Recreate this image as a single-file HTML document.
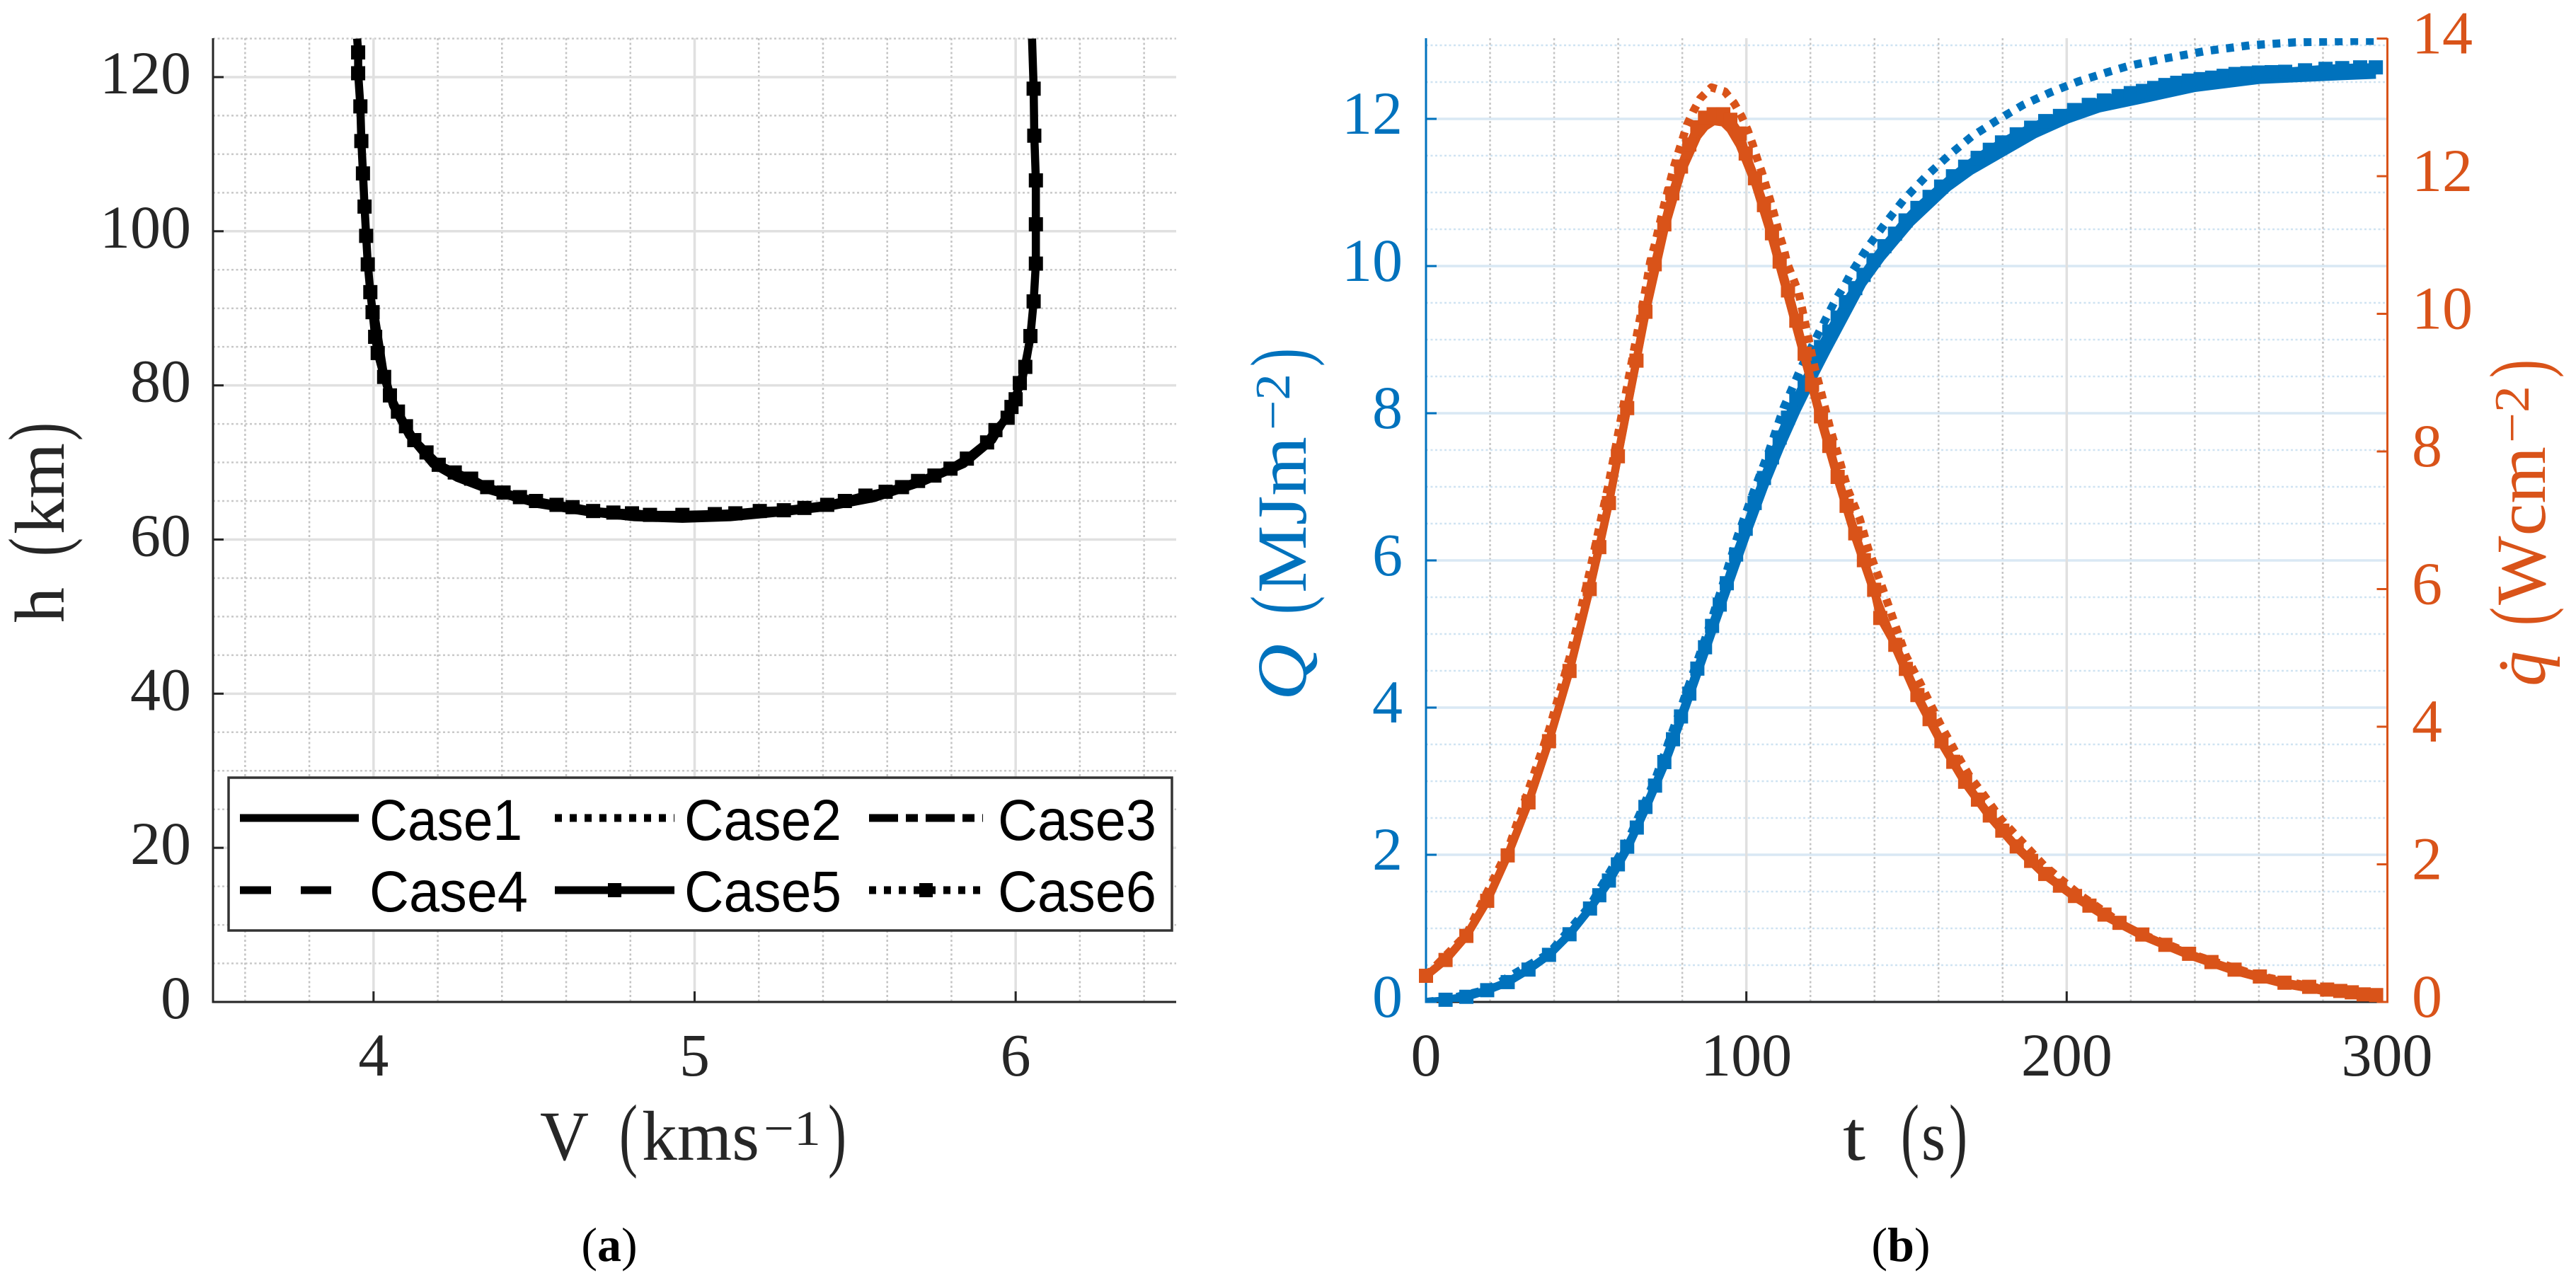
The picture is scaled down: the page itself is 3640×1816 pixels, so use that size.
<!DOCTYPE html>
<html lang="en">
<head>
<meta charset="utf-8">
<title>Trajectory and heating charts</title>
<style>
html,body{margin:0;padding:0;background:#fff;}
svg{display:block;}
text{font-family:"Liberation Serif",serif;}
.sans{font-family:"Liberation Sans",sans-serif;}
</style>
</head>
<body>
<svg id="figure" xmlns="http://www.w3.org/2000/svg" width="3640" height="1816" viewBox="0 0 3640 1816">
<rect x="0" y="0" width="3640" height="1816" fill="#ffffff"/>
<defs>
<clipPath id="clipA"><rect x="301" y="54" width="1361" height="1362"/></clipPath>
<clipPath id="clipB"><rect x="2015" y="54" width="1358" height="1362"/></clipPath>
</defs>

<g id="panelA"></g>

<g>
<rect x="323" y="1099" width="1333" height="216" fill="#ffffff" stroke="#333333" stroke-width="3.5"/>
<line x1="339" y1="1156" x2="507" y2="1156" stroke="#000" stroke-width="11"/>
<text class="sans" x="522" y="1187" font-size="82" textLength="216" lengthAdjust="spacingAndGlyphs">Case1</text>
<line x1="784" y1="1156" x2="953" y2="1156" stroke="#000" stroke-width="11" stroke-dasharray="10 11"/>
<text class="sans" x="967" y="1187" font-size="82" textLength="222" lengthAdjust="spacingAndGlyphs">Case2</text>
<line x1="1228" y1="1156" x2="1389" y2="1156" stroke="#000" stroke-width="11" stroke-dasharray="41 11 17 11"/>
<text class="sans" x="1410" y="1187" font-size="82" textLength="224" lengthAdjust="spacingAndGlyphs">Case3</text>
<line x1="339" y1="1258" x2="468" y2="1258" stroke="#000" stroke-width="11" stroke-dasharray="44 42"/>
<text class="sans" x="522" y="1288" font-size="82" textLength="224" lengthAdjust="spacingAndGlyphs">Case4</text>
<line x1="784" y1="1258" x2="953" y2="1258" stroke="#000" stroke-width="11"/>
<rect x="859" y="1248" width="19" height="20" fill="#000"/>
<text class="sans" x="967" y="1288" font-size="82" textLength="222" lengthAdjust="spacingAndGlyphs">Case5</text>
<line x1="1228" y1="1258" x2="1389" y2="1258" stroke="#000" stroke-width="11" stroke-dasharray="10 11"/>
<rect x="1299" y="1248" width="19" height="20" fill="#000"/>
<text class="sans" x="1410" y="1288" font-size="82" textLength="224" lengthAdjust="spacingAndGlyphs">Case6</text>
</g>

<g id="panelB"></g>

<g fill="#262626" font-size="100">
<text x="763" y="1639" textLength="69" lengthAdjust="spacingAndGlyphs">V</text>
<text x="875" y="1641" font-size="116" textLength="26" lengthAdjust="spacingAndGlyphs">(</text>
<text x="907" y="1639" textLength="166" lengthAdjust="spacingAndGlyphs">kms</text>
<text x="1079" y="1618" font-size="70" textLength="81" lengthAdjust="spacingAndGlyphs">−1</text>
<text x="1170" y="1641" font-size="116" textLength="26" lengthAdjust="spacingAndGlyphs">)</text>
</g>

<g fill="#262626" font-size="100" transform="translate(90,880) rotate(-90)">
<text x="0" y="0" textLength="50" lengthAdjust="spacingAndGlyphs">h</text>
<text x="94" y="2" font-size="116" textLength="26" lengthAdjust="spacingAndGlyphs">(</text>
<text x="125" y="0" textLength="129" lengthAdjust="spacingAndGlyphs">km</text>
<text x="257" y="2" font-size="116" textLength="26" lengthAdjust="spacingAndGlyphs">)</text>
</g>

<g fill="#262626" font-size="100">
<text x="2604" y="1639" textLength="32" lengthAdjust="spacingAndGlyphs">t</text>
<text x="2686" y="1641" font-size="116" textLength="26" lengthAdjust="spacingAndGlyphs">(</text>
<text x="2715" y="1639" textLength="34" lengthAdjust="spacingAndGlyphs">s</text>
<text x="2754" y="1641" font-size="116" textLength="26" lengthAdjust="spacingAndGlyphs">)</text>
</g>

<g fill="#0072BD" font-size="100" transform="translate(1845,990) rotate(-90)">
<text x="0" y="0" font-style="italic" textLength="80" lengthAdjust="spacingAndGlyphs">Q</text>
<text x="122" y="2" font-size="116" textLength="26" lengthAdjust="spacingAndGlyphs">(</text>
<text x="152" y="0" textLength="221" lengthAdjust="spacingAndGlyphs">MJm</text>
<text x="382" y="-23" font-size="70" textLength="80" lengthAdjust="spacingAndGlyphs">−2</text>
<text x="472" y="2" font-size="116" textLength="26" lengthAdjust="spacingAndGlyphs">)</text>
</g>

<g fill="#D95319" font-size="100" transform="translate(3596,970) rotate(-90)">
<text x="0" y="0" font-style="italic">q&#775;</text>
<text x="86" y="2" font-size="116" textLength="26" lengthAdjust="spacingAndGlyphs">(</text>
<text x="115" y="0" textLength="224" lengthAdjust="spacingAndGlyphs">Wcm</text>
<text x="344" y="-23" font-size="70" textLength="81" lengthAdjust="spacingAndGlyphs">−2</text>
<text x="436" y="2" font-size="116" textLength="26" lengthAdjust="spacingAndGlyphs">)</text>
</g>

<text x="861" y="1782" font-size="68" text-anchor="middle" fill="#000">(<tspan font-weight="bold">a</tspan>)</text>
<text x="2686" y="1782" font-size="68" text-anchor="middle" fill="#000">(<tspan font-weight="bold">b</tspan>)</text>
</svg>

<script>
// Panel (a): altitude vs velocity
const xTicksA = [4, 5, 6];
const yTicksA = [0, 20, 40, 60, 80, 100, 120];
const xMinorA = [3.6, 3.8, 4.2, 4.4, 4.6, 4.8, 5.2, 5.4, 5.6, 5.8, 6.2, 6.4];
const yMinorA = [5, 10, 15, 25, 30, 35, 45, 50, 55, 65, 70, 75, 85, 90, 95, 105, 110, 115, 125];
const velocity = [3.949,3.952,3.952,3.959,3.962,3.967,3.972,3.977,3.982,3.990,3.997,4.005,4.013,4.033,4.051,4.076,4.101,4.127,4.165,4.203,4.253,4.304,4.354,4.405,4.456,4.506,4.570,4.620,4.684,4.747,4.805,4.861,4.962,5.063,5.127,5.203,5.278,5.342,5.413,5.468,5.532,5.595,5.646,5.696,5.747,5.797,5.848,5.911,5.937,5.975,5.987,6.000,6.013,6.030,6.046,6.056,6.063,6.063,6.063,6.058,6.056,6.051];
const altitude = [125,123.2,120.5,116.2,111.7,107.5,103.2,99.4,95.7,92.1,89.5,86.3,84.2,81.1,78.7,76.6,74.7,72.9,71.3,69.7,68.7,67.9,66.8,66.1,65.5,65,64.5,64.2,63.7,63.5,63.4,63.2,63.2,63.3,63.4,63.7,63.8,64.1,64.5,65,65.7,66.2,66.8,67.6,68.3,69.2,70.5,72.6,74.2,75.8,77.2,78.2,80.3,82.4,86.4,90.9,95.8,100.9,106.6,112.4,118.5,125];
const velocityLower = [4.000,4.030,4.061,4.111,4.185,4.261,4.362,4.514,4.663,4.813,4.962,5.111,5.261,5.410,5.560,5.711,5.838,5.927,5.977,6.020,6.045];
const altitudeLower = [90,82,77.4,73.5,69.8,68.0,66.4,64.6,63.6,62.9,62.7,62.9,63.5,64.2,65.4,67.5,69.8,72.9,76.4,80.6,86];

// Panel (b): heat load and heat rate vs time
const xTicksB = [0, 100, 200, 300];
const xMinorB = [20, 40, 60, 80, 120, 140, 160, 180, 220, 240, 260, 280];
const yTicksQ = [0, 2, 4, 6, 8, 10, 12];
const yMinorQ = [0.5,1,1.5,2.5,3,3.5,4.5,5,5.5,6.5,7,7.5,8.5,9,9.5,10.5,11,11.5,12.5,13];
const yTicksRate = [0, 2, 4, 6, 8, 10, 12, 14];

const timeLoadLine = [0,6.1,12.6,19.1,25.5,32,38.4,44.8,51.2,57.1,62.8,68.5,74.4,79.6,84.7,89.3,93.9,99.8,105.5,110.4,115.6,120,125.2,130.7,136.2,142,151.3,163,170,180,190,200.2,210,222,240,260.2,280,296.5];
const loadLine = [0,0.02,0.07,0.16,0.27,0.44,0.64,0.92,1.27,1.63,2.08,2.62,3.22,3.83,4.46,5.03,5.6,6.33,7.0,7.52,8.03,8.42,8.86,9.31,9.76,10.11,10.59,11.07,11.29,11.54,11.79,11.99,12.14,12.25,12.42,12.53,12.57,12.60];

const timeLoadMid = [125,135,145,155,170,180,190,200,210,222,240,260,280,296.5];
const loadMid = [8.92,9.71,10.30,10.80,11.37,11.61,11.85,12.04,12.17,12.31,12.47,12.58,12.63,12.65];

const timeLoadMarked = [6.1,12.6,19.1,25.5,32,38.4,44.8,51.2,54.1,57.1,59.9,62.8,65.8,68.5,71.5,74.4,77.1,79.6,82.2,84.7,87.1,89.3,91.7,93.9,96.8,99.8,102.6,105.5,108,110.4,113,115.6,118.2,121.1,123.3,125.9,128.5,131.1,134,136.6,139.7,143.1,146.4,149.7,153.4,157.2,160.8,164.5,168.3,172.2,176,179.8,184.4,188.9,193.3,197.9,202.3,206.9,211.6,216.2,220,223.8,227.3,230.8,234.5,238.1,241.8,245.4,249,252.7,256.4,260,264,268.2,274.4,280.8,286,291.6,296.5];
const loadMarked = [0.03,0.07,0.16,0.27,0.44,0.64,0.92,1.27,1.45,1.65,1.87,2.11,2.37,2.65,2.94,3.26,3.57,3.88,4.19,4.53,4.82,5.11,5.40,5.69,6.08,6.43,6.78,7.12,7.40,7.67,7.94,8.20,8.42,8.71,8.90,9.11,9.30,9.51,9.70,9.88,10.08,10.27,10.44,10.62,10.79,10.94,11.08,11.22,11.35,11.47,11.58,11.68,11.79,11.88,11.97,12.04,12.12,12.19,12.25,12.31,12.35,12.38,12.42,12.46,12.49,12.52,12.54,12.56,12.585,12.61,12.62,12.63,12.635,12.64,12.66,12.68,12.69,12.70,12.70];

const timeLoadDotted = [0,6.1,19.1,38.4,51.2,62.8,71.5,79.6,87.6,91.7,97.2,102.4,107.1,111.6,117.1,123.5,127.7,130.7,132.5,137.6,143.2,149.1,156.1,163.1,170.3,178.2,186.4,194.9,203.7,212.4,219.4,229.3,243.2,257.3,271.5,280.8,290.3,296.9];
const loadDotted = [0,0.03,0.17,0.66,1.31,2.17,3.02,4.0,4.99,5.54,6.32,6.95,7.49,8.07,8.62,9.17,9.53,9.74,9.89,10.24,10.57,10.90,11.22,11.5,11.76,11.98,12.19,12.36,12.51,12.63,12.72,12.81,12.92,13.0,13.04,13.05,13.06,13.06];

const timeRateLine = [0,6.1,12.6,19.1,25.5,32,38.4,44.8,51.1,57.1,62.8,68.5,74.4,79.6,84.7,87.1,89.8,92.8,95,97.9,102.7,108,113,118.2,123.3,128.5,134,139.9,146.5,153.4,160.9,168.3,176,184.4,193.3,202.6,211.8,223.6,238.2,252.4,268,281.3,296.6];
const rateLine = [0.38,0.61,0.96,1.47,2.13,2.90,3.79,4.81,6.00,7.25,8.63,10.0,11.22,12.05,12.58,12.72,12.80,12.78,12.68,12.45,11.9,11.1,10.25,9.35,8.45,7.6,6.75,5.95,5.15,4.42,3.76,3.18,2.69,2.24,1.84,1.52,1.25,0.96,0.68,0.45,0.26,0.15,0.06];

const timeRateMarked = [0,6.1,12.6,19.1,25.5,32,38.4,44.8,51.1,54.1,57.1,59.9,62.8,65.7,68.5,71.4,74.4,76.9,79.6,82.2,84.7,87.1,89.8,92.8,95,97.9,99.8,102.7,105.5,108,110.4,113,115.6,118.2,120.5,123.3,125.9,128.5,131.3,134,136.7,139.9,141.8,146.5,149.8,153.4,157.2,160.9,164.6,168.3,172.3,176,179.9,184.4,188.9,193.3,197.9,202.6,207.1,211.8,216.5,223.6,230.8,238.2,245.2,252.4,260.3,268,275.7,281.3,285.4,289,292.7,296.6];
const rateMarked = [0.38,0.61,0.96,1.47,2.13,2.90,3.79,4.81,6.00,6.61,7.25,7.93,8.63,9.32,10.03,10.72,11.30,11.75,12.14,12.46,12.71,12.85,12.90,12.90,12.82,12.62,12.33,11.97,11.58,11.17,10.76,10.34,9.90,9.42,8.97,8.51,8.08,7.63,7.21,6.81,6.42,5.99,5.58,5.19,4.84,4.46,4.11,3.79,3.49,3.20,2.94,2.71,2.49,2.26,2.05,1.86,1.69,1.54,1.40,1.27,1.15,0.98,0.83,0.70,0.58,0.47,0.37,0.28,0.22,0.18,0.16,0.14,0.11,0.10];

const timeRateDotted = [0,12.6,25.5,38.4,44.8,51.1,57.1,62.8,68.5,70,71.4,74.5,76.1,77.3,78.6,80.1,81.4,83.4,85.6,89.1,93.3,96.2,98.5,100.4,102,103.4,104.9,106.3,107.7,109,110.1,111.6,112.7,116.3,118.2,121.1,123.3,126.3,128.9,131.8,135.4,138,141.4,149.8,154.2,160.5,165.2,169.7,174.1,179.6,183,192.8,204,220,240,260,280,296.6];
const rateDotted = [0.38,0.98,2.2,3.95,5.0,6.25,7.55,8.95,10.35,10.76,11.0,11.61,11.90,12.12,12.32,12.54,12.74,12.94,13.13,13.29,13.23,13.06,12.87,12.67,12.46,12.25,12.05,11.83,11.61,11.39,11.18,10.96,10.74,10.31,9.90,9.26,8.87,8.31,7.90,7.43,7.02,6.59,6.16,5.03,4.64,4.04,3.64,3.28,3.01,2.65,2.48,1.99,1.56,1.05,0.68,0.38,0.19,0.10];

const NS = 'http://www.w3.org/2000/svg';
const BLUE = '#0072BD', ORANGE = '#D95319', INK = '#262626';
const MARKER = 20;

// Axis functions
function xA(v) { return 301 + (v - 3.5) * (1361 / 3); }
function yA(h) { return 1416 - h * (1361.5 / 125); }
function xB(t) { return 2015 + t * (1358 / 300); }
function yLoad(Q) { return 1416 - Q * 104; }
function yRate(q) { return 1416 - q * 97.25; }

function mk(parent, tag, attrs, txt) {
  const el = document.createElementNS(NS, tag);
  for (const k in attrs) el.setAttribute(k, attrs[k]);
  if (txt !== undefined) el.textContent = txt;
  parent.appendChild(el);
  return el;
}

function hGrid(parent, vals, yf, x1, x2, stroke, width, dash, name) {
  vals.forEach(function (v) {
    const a = { x1: x1, x2: x2, y1: yf(v), y2: yf(v), stroke: stroke, 'stroke-width': width };
    if (dash) a['stroke-dasharray'] = dash;
    const el = mk(parent, 'line', a);
    
    
  });
}
function vGrid(parent, vals, xf, y1, y2, stroke, width, dash, name) {
  vals.forEach(function (v) {
    const a = { x1: xf(v), x2: xf(v), y1: y1, y2: y2, stroke: stroke, 'stroke-width': width };
    if (dash) a['stroke-dasharray'] = dash;
    const el = mk(parent, 'line', a);
    
    
  });
}
function yTicksDraw(parent, vals, yf, xAxis, dir, color, labelX, anchor, dy, name) {
  vals.forEach(function (v) {
    const tick = mk(parent, 'line', { x1: xAxis, x2: xAxis + dir * 15, y1: yf(v), y2: yf(v), stroke: color, 'stroke-width': 3 });
    
    
    const lab = mk(parent, 'text', { x: labelX, y: yf(v) + dy, 'font-size': 86, fill: color, 'text-anchor': anchor }, String(v));
    
    
  });
}
function xTicksDraw(parent, vals, xf, name) {
  vals.forEach(function (v) {
    const tick = mk(parent, 'line', { x1: xf(v), x2: xf(v), y1: 1416, y2: 1401, stroke: INK, 'stroke-width': 3 });
    
    
    const lab = mk(parent, 'text', { x: xf(v), y: 1520, 'font-size': 86, fill: INK, 'text-anchor': 'middle' }, String(v));
    
    
  });
}
function series(parent, xs, ys, xf, yf, color, dash, clip, name) {
  let d = '';
  xs.forEach(function (x, i) { d += (i ? 'L' : 'M') + xf(x).toFixed(1) + ' ' + yf(ys[i]).toFixed(1); });
  const a = { d: d, fill: 'none', stroke: color, 'stroke-width': 11.5, 'stroke-linejoin': 'round', 'clip-path': 'url(#' + clip + ')' };
  if (dash) a['stroke-dasharray'] = dash;
  const el = mk(parent, 'path', a);
  
  
}
function markers(parent, xs, ys, xf, yf, color, name) {
  xs.forEach(function (x, i) {
    const r = mk(parent, 'rect', { x: xf(x) - MARKER / 2, y: yf(ys[i]) - MARKER / 2, width: MARKER, height: MARKER, fill: color });
    
    
  });
}

// Panel A
const A = document.getElementById('panelA');
hGrid(A, yMinorA, yA, 301, 1662, '#c8c8c8', 2.5, '3 3.5', 'y-minor-gridline');
vGrid(A, xMinorA, xA, 54, 1416, '#c4c4c4', 2.5, '3 3.5', 'x-minor-gridline');
hGrid(A, yTicksA, yA, 301, 1662, '#e0e0e0', 3.5, null, 'y-major-gridline');
vGrid(A, xTicksA, xA, 54, 1416, '#e0e0e0', 3.5, null, 'x-major-gridline');
const spineAL = mk(A, 'line', { x1: 301, x2: 301, y1: 54, y2: 1417.5, stroke: INK, 'stroke-width': 3 });


const spineAB = mk(A, 'line', { x1: 299.5, x2: 1662, y1: 1416, y2: 1416, stroke: INK, 'stroke-width': 3 });


yTicksDraw(A, yTicksA, yA, 301, 1, INK, 270, 'end', 23, 'y-axis-a');
xTicksDraw(A, xTicksA, xA, 'x-axis-a');
series(A, velocityLower, altitudeLower, xA, yA, '#000000', null, 'clipA', 'trajectory-lower-line');
series(A, velocity, altitude, xA, yA, '#000000', null, 'clipA', 'trajectory-line');
markers(A, velocity.slice(1, -1), altitude.slice(1, -1), xA, yA, '#000000', 'trajectory-marker');

// Panel B
const B = document.getElementById('panelB');
hGrid(B, yMinorQ, yLoad, 2015, 3373, '#cfe3f2', 2.5, '3 3.5', 'y-minor-gridline');
vGrid(B, xMinorB, xB, 54, 1416, '#c4c4c4', 2.5, '3 3.5', 'x-minor-gridline');
hGrid(B, yTicksQ, yLoad, 2015, 3373, '#d9e8f4', 3.5, null, 'y-major-gridline');
vGrid(B, xTicksB.slice(1, 3), xB, 54, 1416, '#e0e0e0', 3.5, null, 'x-major-gridline');
const spineBB = mk(B, 'line', { x1: 2015, x2: 3373, y1: 1416, y2: 1416, stroke: INK, 'stroke-width': 3 });


const spineBL = mk(B, 'line', { x1: 2015, x2: 2015, y1: 54, y2: 1417.5, stroke: BLUE, 'stroke-width': 3 });


const spineBR = mk(B, 'line', { x1: 3373.5, x2: 3373.5, y1: 54, y2: 1417.5, stroke: ORANGE, 'stroke-width': 3 });


yTicksDraw(B, yTicksQ, yLoad, 2015, 1, BLUE, 1982, 'end', 21, 'y-axis-load');
yTicksDraw(B, yTicksRate, yRate, 3373.5, -1, ORANGE, 3408, 'start', 21, 'y-axis-rate');
xTicksDraw(B, xTicksB.slice(1, 3), xB, 'x-axis-b');
[0, 300].forEach(function (v) {
  const lab = mk(B, 'text', { x: xB(v), y: 1520, 'font-size': 86, fill: INK, 'text-anchor': 'middle' }, String(v));
  
  
});
series(B, timeLoadDotted, loadDotted, xB, yLoad, BLUE, '11 11', 'clipB', 'heat-load-dotted-line');
series(B, timeLoadLine, loadLine, xB, yLoad, BLUE, null, 'clipB', 'heat-load-solid-line');
series(B, timeLoadMid, loadMid, xB, yLoad, BLUE, null, 'clipB', 'heat-load-mid-line');
series(B, timeLoadMarked, loadMarked, xB, yLoad, BLUE, null, 'clipB', 'heat-load-marked-line');
markers(B, timeLoadMarked, loadMarked, xB, yLoad, BLUE, 'heat-load-marker');
series(B, timeRateDotted, rateDotted, xB, yRate, ORANGE, '10.5 10', 'clipB', 'heat-rate-dotted-line');
series(B, timeRateLine, rateLine, xB, yRate, ORANGE, null, 'clipB', 'heat-rate-solid-line');
series(B, timeRateMarked, rateMarked, xB, yRate, ORANGE, null, 'clipB', 'heat-rate-marked-line');
markers(B, timeRateMarked, rateMarked, xB, yRate, ORANGE, 'heat-rate-marker');
</script>
</body>
</html>
